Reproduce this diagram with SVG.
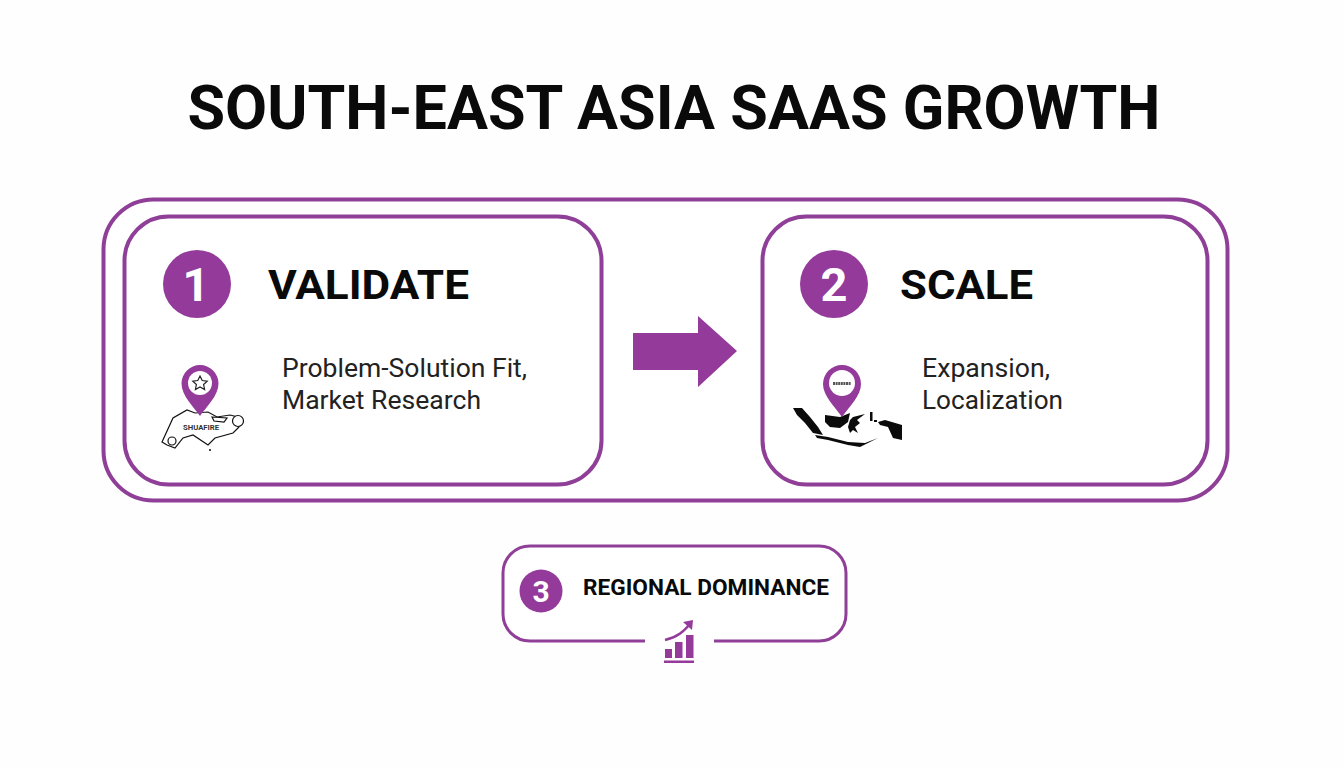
<svg xmlns="http://www.w3.org/2000/svg" width="1344" height="768" viewBox="0 0 1344 768">
<style>
.box{fill:#fff;stroke:#8f3f97;stroke-width:4}
.box3{fill:#fff;stroke:#8f3f97;stroke-width:3}
.p{fill:#933a9b}
.t{font-family:Roboto,"Liberation Sans",sans-serif;font-weight:700;fill:#0a0a0a}
.n{font-family:Roboto,"Liberation Sans",sans-serif;font-weight:700;fill:#fff;text-anchor:middle}
.b{font-family:Roboto,"Liberation Sans",sans-serif;font-size:25px;fill:#222}
.land{fill:#fff;stroke:#111;stroke-width:1.2}
.blk{fill:#0b0b0b}
</style>
<rect width="1344" height="768" fill="#fefefe"/>
<text id="title" class="t" x="674" y="129" font-size="61" text-anchor="middle" textLength="973" lengthAdjust="spacingAndGlyphs">SOUTH-EAST ASIA SAAS GROWTH</text>
<rect id="outer" class="box" x="103.500" y="199.500" width="1124" height="301" rx="50"/>
<g id="node-validate">
<rect class="box" x="124.500" y="216.500" width="477" height="268" rx="44"/>
<circle class="p" cx="197" cy="284" r="34"/>
<text class="n" x="196" y="301" font-size="47">1</text>
<text class="t" x="268" y="299" font-size="40" textLength="201" lengthAdjust="spacingAndGlyphs">VALIDATE</text>
<text class="b" x="282" y="377" textLength="245" lengthAdjust="spacingAndGlyphs">Problem-Solution Fit,</text>
<text class="b" x="282" y="409" textLength="199" lengthAdjust="spacingAndGlyphs">Market Research</text>
<path class="land" d="M162 442L173 418L187 410L195 413L208 412L217 417L230 415L238 417L243 422L238 428L233 433L215 438L208 445L193 435L183 438L175 448L167 445Z"/>
<circle class="land" cx="238" cy="421" r="5.500"/>
<circle class="land" cx="172" cy="441" r="4"/>
<path class="land" d="M212 417L227 418L224 422L214 421Z"/>
<circle class="blk" cx="210" cy="450" r="1"/>
<path class="p" d="M200 365a18.500 18.500 0 0 1 18.500 18.500C218.500 396 206 407 200 416C194 407 181.500 396 181.500 383.500A18.500 18.500 0 0 1 200 365Z"/>
<circle cx="200" cy="383" r="12" fill="#fff"/>
<path d="M200 376l2.200 4.500 5 .6-3.600 3.400 1 5-4.600-2.500-4.600 2.500 1-5-3.600-3.400 5-.6Z" fill="none" stroke="#222" stroke-width="1.200"/>
<text x="183" y="430" font-family="Roboto,'Liberation Sans',sans-serif" font-size="8" font-weight="700" fill="#333" textLength="36" lengthAdjust="spacingAndGlyphs">SHUAFIRE</text>
</g>
<g id="connector"><path class="p" d="M633 333H698V316L737 351L698 387V370H633Z"/></g>
<g id="node-scale">
<rect class="box" x="762.500" y="216.500" width="445" height="268" rx="44"/>
<circle class="p" cx="834" cy="284" r="34"/>
<text class="n" x="834" y="301" font-size="47">2</text>
<text class="t" x="900" y="299" font-size="40" textLength="133" lengthAdjust="spacingAndGlyphs">SCALE</text>
<text class="b" x="922" y="377" textLength="128" lengthAdjust="spacingAndGlyphs">Expansion,</text>
<text class="b" x="922" y="409" textLength="141" lengthAdjust="spacingAndGlyphs">Localization</text>
<path class="blk" d="M793 408L802 408L810 417L818 427L823 435L813 433L805 423L797 415Z"/>
<path class="blk" d="M825 415L840 417L850 413L848 422L840 428L830 427L825 422Z"/>
<path class="blk" d="M853 417L865 414L857 420L860 423L855 427L858 433L853 430L850 433L848 427L850 420Z"/>
<path class="blk" d="M878 422L885 420L902 425L902 440L893 438L888 427L880 425Z"/>
<path class="blk" d="M815 435L828 437L848 442L865 443L878 438L860 447L848 445L828 440L817 438Z"/>
<path class="blk" d="M870 412h2.500v9h-2.500ZM874 420h3v2h-3Z"/>
<path class="p" d="M842 365a19 19 0 0 1 19 19C861 396 849 407 842 417C835 407 823 396 823 384A19 19 0 0 1 842 365Z"/>
<circle cx="842" cy="383" r="13" fill="#fff"/>
<path d="M833 383.500H851" stroke="#555" stroke-width="3" stroke-dasharray="2 .6" fill="none"/>
</g>
<g id="node-dominance">
<path class="box3" d="M645 641H530A27 27 0 0 1 503 614V573A27 27 0 0 1 530 546H819A27 27 0 0 1 846 573V614A27 27 0 0 1 819 641H714"/>
<circle class="p" cx="541" cy="591" r="21.500"/>
<text class="n" x="541" y="602" font-size="30">3</text>
<text class="t" x="583" y="595" font-size="22" textLength="246" lengthAdjust="spacingAndGlyphs">REGIONAL DOMINANCE</text>
<path class="p" d="M665 649h7v9h-7ZM675 642h7.500v16h-7.500ZM686 635h7.500v23h-7.500ZM664 660.500h30v2.500h-30Z"/>
<path d="M665 640C678 637 684 631 690 624" fill="none" stroke="#933a9b" stroke-width="2.500"/>
<path class="p" d="M683 622L693 620L692 630Z"/>
</g>
</svg>
